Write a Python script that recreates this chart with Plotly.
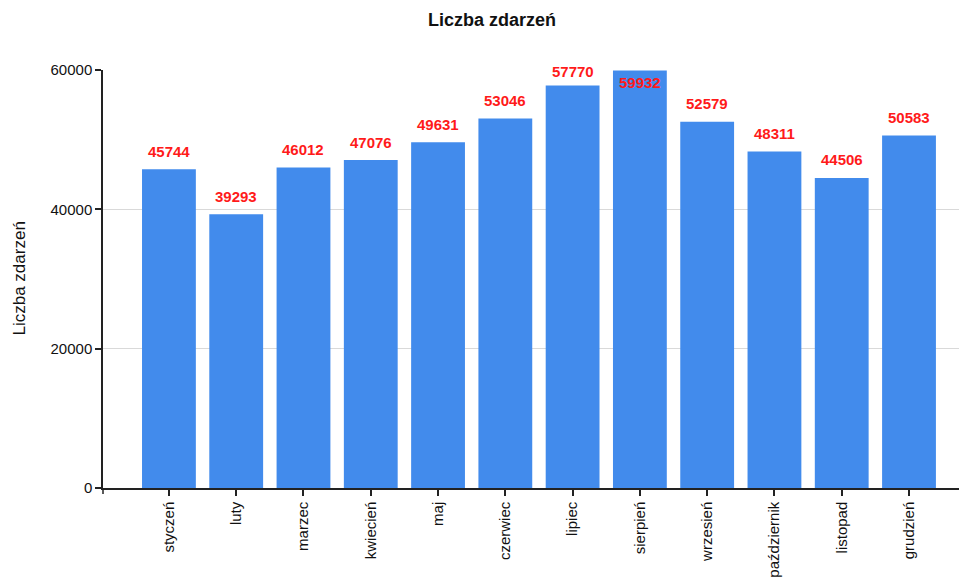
import plotly.graph_objects as go

months = ["styczeń", "luty", "marzec", "kwiecień", "maj", "czerwiec", "lipiec",
          "sierpień", "wrzesień", "październik", "listopad", "grudzień"]
counts = [45744, 39293, 46012, 47076, 49631, 53046, 57770, 59932, 52579, 48311, 44506, 50583]
y_ticks = [0, 20000, 40000, 60000]

FONT = "Liberation Sans, Arial, sans-serif"
Y_MAX = 60000
W, H = 959, 578          # page body has 8px margin
ML, MR, MT, MB = 95, 0, 62, 98
PLOT_H = H - MT - MB
PLOT_W = W - ML - MR

fig = go.Figure(go.Bar(
    x=months, y=counts, marker=dict(color="#428BEC", line=dict(width=0)),
    width=0.8, hoverinfo="x+y",
))

annotations = []
for m, v in zip(months, counts):
    top_px = (Y_MAX - v) / Y_MAX * PLOT_H
    if top_px < 5:
        shift = -12
    else:
        shift = 18
        if top_px - shift < 1:
            shift = top_px - 1
    annotations.append(dict(
        x=m, y=v, xref="x", yref="y", text=str(v), showarrow=False,
        yshift=shift, yanchor="middle",
        font=dict(family=FONT, size=15, color="#ff1a1a", weight="bold"),
    ))

annotations.append(dict(
    x=0, y=0.5, xref="paper", yref="paper", text="Liczba zdarzeń",
    textangle=-90, showarrow=False, xanchor="center", yanchor="middle",
    xshift=-(ML - 10.5), font=dict(family=FONT, size=17, color="#111"),
))

fig.update_layout(
    width=W, height=H,
    margin=dict(l=ML, r=MR, t=MT, b=MB, autoexpand=False),
    paper_bgcolor="white", plot_bgcolor="white",
    title=dict(text="<b>Liczba zdarzeń</b>", x=484 / W, xanchor="center",
               y=1 - 12 / H, yanchor="middle", yref="container",
               font=dict(family=FONT, size=18, color="#111")),
    showlegend=False,
    annotations=annotations,
    font=dict(family=FONT, size=15, color="#111"),
)
fig.update_xaxes(
    type="category", range=[-0.98, 11.862], showline=True, linecolor="#222",
    linewidth=1.5, ticks="outside", ticklen=6, tickcolor="#222", tickwidth=1.5,
    tickangle=-90, showgrid=False, automargin=False,
    tickfont=dict(family=FONT, size=15, color="#111"), zeroline=False,
)
fig.update_yaxes(
    range=[0, Y_MAX], tickvals=y_ticks, ticktext=[str(t) for t in y_ticks],
    showline=True, linecolor="#222", linewidth=1.5, ticks="outside", ticklen=6,
    tickcolor="#222", tickwidth=1.5, showgrid=True, gridcolor="#d9d9d9",
    gridwidth=1, zeroline=False, automargin=False,
    tickfont=dict(family=FONT, size=15, color="#111"),
)
fig.add_shape(type="line", xref="paper", yref="paper", x0=0, x1=0, y0=0,
              y1=-6 / PLOT_H, line=dict(color="#222", width=1.5))

fig.write_html("out.html")
